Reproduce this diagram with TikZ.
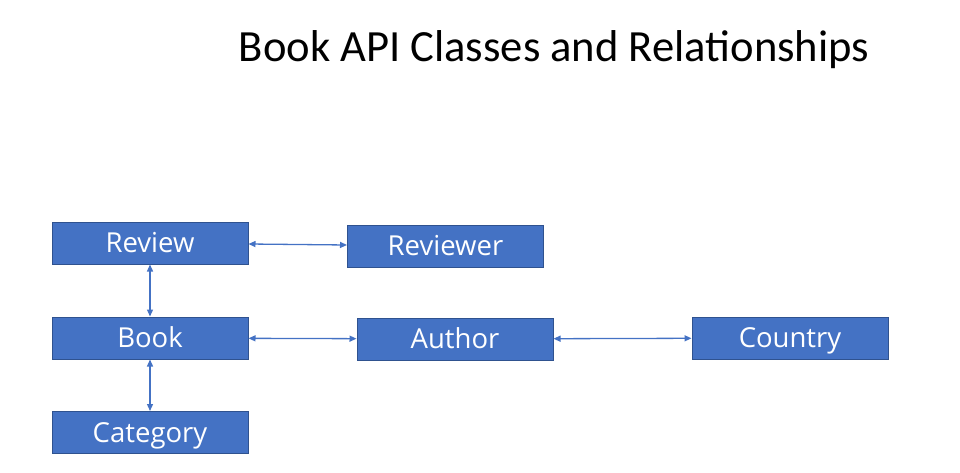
\documentclass[tikz,border=0pt]{standalone}
\usepackage{fontspec}
\setmainfont{Carlito}
\newfontfamily\boxfont{Open Sans}
\usetikzlibrary{arrows.meta}
\definecolor{boxblue}{HTML}{4472C4}
\definecolor{boxedge}{HTML}{2F528F}
\definecolor{linkblue}{HTML}{4472C4}
\begin{document}
\begin{tikzpicture}[x=1pt, y=-1pt,
        classbox/.style={draw=boxedge, line width=1pt, fill=boxblue, text=white,
            minimum width=196pt, minimum height=42pt, inner sep=0pt,
            text height=19pt, text depth=0pt,
            font=\boxfont\fontsize{27.5}{30}\selectfont},
        link/.style={draw=linkblue, line width=1.3pt, {Triangle[length=7pt,width=6pt]}-{Triangle[length=7pt,width=6pt]}}]%% start picture
    \useasboundingbox (0, 0) rectangle (960, 473);

        \node[font=\fontsize{44.6}{50}\selectfont, anchor=base] (title) at (554, 62){Book API Classes and Relationships};

            % left column
            \node[classbox] (review) at (150, 243){Review};
            \node[classbox] (book) at (150, 338){Book};
            \node[classbox] (category) at (150, 432.5){Category};

            % right side
            \node[classbox] (reviewer) at (445.5, 246){Reviewer};
            \node[classbox] (author) at (455, 339){Author};
            \node[classbox] (country) at (790, 338){Country};

                \draw[link] (review) -- (book);
                \draw[link] (book) -- (category);
                \draw[link] (review) -- (reviewer);
                \draw[link] (book) -- (author);
                \draw[link] (author) -- (country);

\end{tikzpicture}
\end{document}
